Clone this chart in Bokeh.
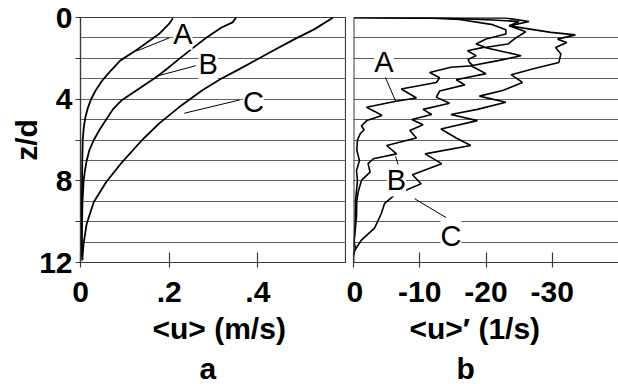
from bokeh.plotting import figure
from bokeh.models import Range1d, FixedTicker, Label, Span, Grid, Title
from bokeh.layouts import row
from bokeh.embed import file_html
from bokeh.resources import INLINE

# ---------------- data ----------------
# panel a: mean velocity <u> (m/s) versus depth z/d
a_A_z = [0, 0.33, 0.81, 1.22, 1.63, 2.1, 2.61, 3.09, 3.58, 3.99, 4.4, 4.89, 5.37, 6.0, 7.0, 8.0, 9.0, 10.0, 11.0, 11.5, 11.85]
a_A_u = [0.210, 0.199, 0.177, 0.150, 0.124, 0.090, 0.068, 0.049, 0.034, 0.024, 0.017, 0.011, 0.0075, 0.005, 0.004, 0.0035, 0.003, 0.0025, 0.0025, 0.003, 0.005]

a_B_z = [0, 0.24, 0.5, 1.0, 1.5, 2.0, 2.5, 2.9, 3.5, 4.07, 4.5, 5.0, 5.5, 6.0, 6.5, 7.0, 7.5, 8.0, 9.0, 10.0, 11.0, 11.9]
a_B_u = [0.351, 0.343, 0.317, 0.283, 0.253, 0.224, 0.196, 0.172, 0.131, 0.092, 0.073, 0.058, 0.043, 0.030, 0.020, 0.014, 0.010, 0.007, 0.0045, 0.0035, 0.003, 0.004]

a_C_z = [0, 0.57, 1.06, 1.63, 2.12, 2.6, 3.0, 3.58, 4.4, 5.2, 6.0, 7.08, 8.06, 9.04, 10.1, 11.07, 11.7]
a_C_u = [0.570, 0.528, 0.483, 0.434, 0.393, 0.352, 0.317, 0.274, 0.222, 0.177, 0.139, 0.094, 0.058, 0.030, 0.014, 0.007, 0.0045]

# panel b: velocity gradient <u>' (1/s) versus depth z/d
b_A_z = [0, 0.03, 0.1, 0.35, 0.6, 0.81, 1.05, 1.3, 1.45, 1.63, 1.87, 2.05, 2.2, 2.36, 2.44, 2.69, 2.95, 3.18, 3.5, 3.75, 3.94, 4.1, 4.4, 4.6, 4.8, 5.05, 5.3, 5.5, 5.7, 6.0, 6.5, 7.0, 7.5, 8.0, 9.0, 10.0, 11.0, 11.3, 11.55]
b_A_v = [0, -12, -16, -21, -23, -23, -20, -18.5, -19.8, -17.2, -18.5, -17.3, -17.5, -18, -14.7, -11.5, -13, -12.5, -7.2, -8.5, -9.5, -6.4, -1.95, -3.2, -4.3, -2.0, -1.2, -1.6, -1.0, -0.6, -0.5, -0.9, -0.45, -0.6, -0.3, -0.25, -0.1, -0.3, 0]

b_B_z = [0, 0.03, 0.12, 0.2, 0.4, 0.7, 1.0, 1.3, 1.47, 1.7, 1.87, 2.1, 2.36, 2.55, 2.75, 3.05, 3.3, 3.6, 3.9, 4.2, 4.5, 4.75, 5.0, 5.25, 5.53, 5.9, 6.27, 6.68, 6.92, 7.16, 7.57, 7.98, 8.55, 9.0, 9.77, 10.6, 11.2, 11.6]
b_B_v = [0, -14, -21, -25, -23.5, -26, -24.5, -23.3, -19.8, -23, -25.3, -22, -17.75, -18.8, -20, -15.5, -16.8, -13, -12.5, -14.5, -10.5, -11.8, -8.8, -10.5, -8.5, -9.5, -5, -6.5, -3, -2.2, -2.5, -1.2, -0.7, -0.5, -0.45, -0.2, 0, 0]

b_C_z = [0, 0.02, 0.2, 0.41, 0.73, 0.85, 1.06, 1.22, 1.47, 1.79, 2.2, 2.5, 2.8, 3.18, 3.58, 3.85, 4.15, 4.5, 4.75, 5.05, 5.46, 5.9, 6.27, 6.68, 7.16, 7.7, 8.14, 8.7, 9.1, 9.6, 10.3, 10.9, 11.4, 11.7]
b_C_v = [0, -22.8, -26.5, -23.5, -29.8, -33.5, -30.8, -32.2, -30.5, -31.3, -31.0, -27.3, -23.8, -25.5, -22.5, -19.0, -23.0, -18.7, -14.7, -18.7, -13.2, -15.5, -17.7, -10.8, -13.3, -8.9, -10.2, -6.2, -4.7, -4.2, -3.2, -1.2, -0.2, 0]

# axes / ticks / texts
z_ticks = [0, 2, 4, 6, 8, 10, 12]
z_tick_labels = ["0", "", "4", "", "8", "", "12"]
grid_z = list(range(0, 13))
a_ticks = [0, 0.2, 0.4]
a_tick_labels = ["0", ".2", ".4"]
b_ticks = [0, -10, -20, -30]
b_tick_labels = ["0", "-10", "-20", "-30"]
curve_names = ["A", "B", "C"]
y_title = "z/d"
a_xtitle, a_panel = "<u> (m/s)", "a"
b_xtitle, b_panel = "<u>\u2032 (1/s)", "b"

# ---------------- styling ----------------
FONT = "Liberation Sans"
AX = "#3a3a3a"
GRID = "#606060"


def make_fig(width, x_range, left, right, with_y):
    p = figure(width=width, height=384, x_range=x_range, y_range=Range1d(12, 0),
               output_backend="svg", toolbar_location=None,
               y_axis_location="left" if with_y else None,
               min_border_left=left, min_border_right=right,
               min_border_top=17, min_border_bottom=122)
    p.background_fill_color = "white"
    p.border_fill_color = "white"
    p.xgrid.visible = False
    if len(p.ygrid) == 0:
        p.add_layout(Grid(dimension=1, ticker=FixedTicker(ticks=grid_z)), "center")
    p.ygrid.ticker = FixedTicker(ticks=grid_z)
    p.ygrid.grid_line_color = GRID
    p.ygrid.grid_line_width = 1.2
    xa = p.xaxis[0]
    xa.axis_line_color = AX
    xa.axis_line_width = 1.2
    xa.major_tick_line_color = AX
    xa.major_tick_line_width = 1.2
    xa.major_tick_in = 10
    xa.major_tick_out = 5
    xa.minor_tick_line_color = None
    xa.major_label_text_font = FONT
    xa.major_label_text_font_style = "bold"
    xa.major_label_text_font_size = "30px"
    xa.major_label_text_color = "black"
    xa.major_label_standoff = 14
    return p


def below_title(p, text, offset, standoff, size="30px"):
    p.add_layout(Title(text=text, align="left", offset=offset, standoff=standoff,
                       text_font=FONT, text_font_style="bold", text_font_size=size,
                       text_color="black"), "below")


def tag(p, x, y, text):
    p.add_layout(Label(x=x, y=y, text=text, text_font=FONT, text_font_size="29px",
                       text_color="black", text_align="center", text_baseline="middle",
                       background_fill_color="white"))


# ---------------- panel a ----------------
pa = make_fig(346, Range1d(0, 0.6), 80, 0, True)
pa.outline_line_color = AX
pa.outline_line_width = 1.2
pa.xaxis.ticker = FixedTicker(ticks=a_ticks)
pa.xaxis.major_label_overrides = dict(zip(a_ticks, a_tick_labels))
ya = pa.yaxis[0]
ya.ticker = FixedTicker(ticks=z_ticks)
ya.major_label_overrides = dict(zip(z_ticks, z_tick_labels))
ya.axis_line_color = AX
ya.axis_line_width = 1.2
ya.major_tick_line_color = AX
ya.major_tick_line_width = 1.2
ya.major_tick_in = 0
ya.major_tick_out = 5
ya.minor_tick_line_color = None
ya.major_label_text_font = FONT
ya.major_label_text_font_style = "bold"
ya.major_label_text_font_size = "30px"
ya.major_label_text_color = "black"
ya.major_label_standoff = 3
ya.axis_label = y_title
ya.axis_label_standoff = -7
ya.axis_label_text_font = FONT
ya.axis_label_text_font_style = "bold"
ya.axis_label_text_font_size = "30px"
ya.axis_label_text_color = "black"

for zs, us in [(a_A_z, a_A_u), (a_B_z, a_B_u), (a_C_z, a_C_u)]:
    pa.line(us, zs, line_color="black", line_width=1.8)

# leader lines and curve tags, panel a
pa.line([0.128, 0.200], [1.63, 1.00], line_color="black", line_width=1)
pa.line([0.171, 0.260], [2.88, 2.36], line_color="black", line_width=1)
pa.line([0.234, 0.359], [4.69, 4.04], line_color="black", line_width=1)
tag(pa, 0.231, 0.80, curve_names[0])
tag(pa, 0.288, 2.28, curve_names[1])
tag(pa, 0.390, 4.14, curve_names[2])

below_title(pa, a_xtitle, 72, 10)
below_title(pa, a_panel, 119, 0)

# ---------------- panel b ----------------
pb = make_fig(272, Range1d(0, -40), 7, 0, False)
pb.outline_line_color = None
pb.xaxis.ticker = FixedTicker(ticks=b_ticks)
pb.xaxis.major_label_overrides = dict(zip(b_ticks, b_tick_labels))
pb.add_layout(Span(location=0, dimension="height", line_color=AX, line_width=2))

for zs, vs in [(b_A_z, b_A_v), (b_B_z, b_B_v), (b_C_z, b_C_v)]:
    pb.line(vs, zs, line_color="black", line_width=1.6)

pb.line([-4.7, -6.36], [2.85, 4.10], line_color="black", line_width=1)
pb.line([-6.36, -6.87], [6.80, 7.36], line_color="black", line_width=1)
pb.line([-9.2, -13.98], [8.87, 9.80], line_color="black", line_width=1)
tag(pb, -4.6, 2.16, curve_names[0])
tag(pb, -6.47, 7.98, curve_names[1])
tag(pb, -14.7, 10.71, curve_names[2])

below_title(pb, b_xtitle, 56, 10)
below_title(pb, b_panel, 103, 0)

layout = row(pa, pb, spacing=0)
open("out.html", "w").write(file_html(layout, INLINE))
